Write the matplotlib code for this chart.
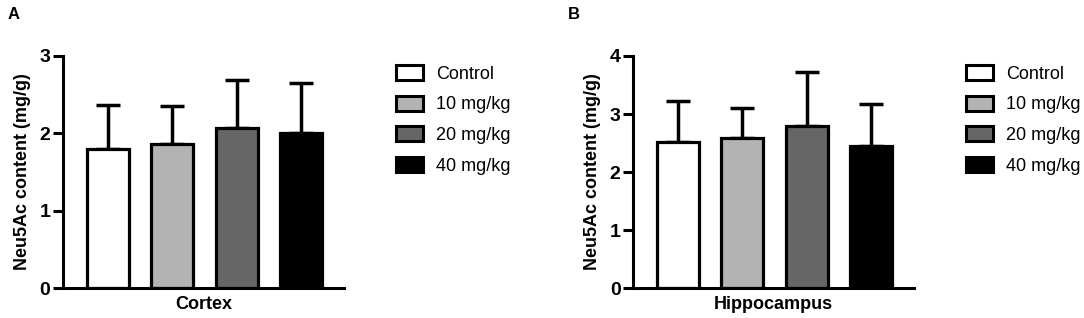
import matplotlib
matplotlib.use('Agg')
import matplotlib.pyplot as plt
from matplotlib.patches import Patch

plt.rcParams['font.family'] = ['Liberation Sans', 'DejaVu Sans']

groups = ['Control', '10 mg/kg', '20 mg/kg', '40 mg/kg']
colors = ['white', '#b3b3b3', '#666666', 'black']

# cortex
cortex_mean = [1.80, 1.86, 2.07, 2.00]
cortex_sd = [0.56, 0.49, 0.62, 0.65]
# hippocampus
hippo_mean = [2.51, 2.58, 2.80, 2.44]
hippo_sd = [0.72, 0.52, 0.92, 0.74]

fig = plt.figure(figsize=(10.84, 3.18), dpi=100)


def panel(left, means, sds, ymax, xlabel, letter, letter_x, leg_x):
    ax = fig.add_axes([left, 0.0943, 0.2592, 0.7296])
    x = range(len(means))
    ax.errorbar(x, means, yerr=[[0] * len(sds), sds], fmt='none', ecolor='black',
                elinewidth=2.5, capsize=8.5, capthick=2.5, zorder=1)
    ax.bar(x, means, width=0.65, color=colors, edgecolor='black', linewidth=2.3, zorder=2)
    ax.set_xlim(-0.69, 3.66)
    ax.set_ylim(0, ymax)
    ax.set_yticks(range(ymax + 1))
    ax.set_xticks([])
    for s in ['top', 'right']:
        ax.spines[s].set_visible(False)
    for s in ['left', 'bottom']:
        ax.spines[s].set_linewidth(2.2)
    ax.tick_params(axis='y', length=7, width=2.2, labelsize=14, pad=2)
    for t in ax.get_yticklabels():
        t.set_fontweight('bold')
    ax.set_xlabel(xlabel, fontsize=13, fontweight='bold', labelpad=6)
    ax.set_ylabel('Neu5Ac content (mg/g)', fontsize=13, fontweight='bold', labelpad=6)
    fig.text(letter_x, 0.955, letter, fontsize=12, fontweight='bold', ha='left', va='center')
    handles = [Patch(facecolor=c, edgecolor='black', linewidth=2.2) for c in colors]
    fig.legend(handles, groups, loc='upper left', bbox_to_anchor=(leg_x, 0.795),
               frameon=False, fontsize=13, handlelength=1.5, handleheight=0.88,
               handletextpad=0.75, labelspacing=0.72, borderpad=0, borderaxespad=0)
    return ax


panel(0.0581, cortex_mean, cortex_sd, 3, 'Cortex', 'A', 0.007, 0.365)
panel(0.584, hippo_mean, hippo_sd, 4, 'Hippocampus', 'B', 0.524, 0.891)

fig.savefig('out.png', dpi=100)
